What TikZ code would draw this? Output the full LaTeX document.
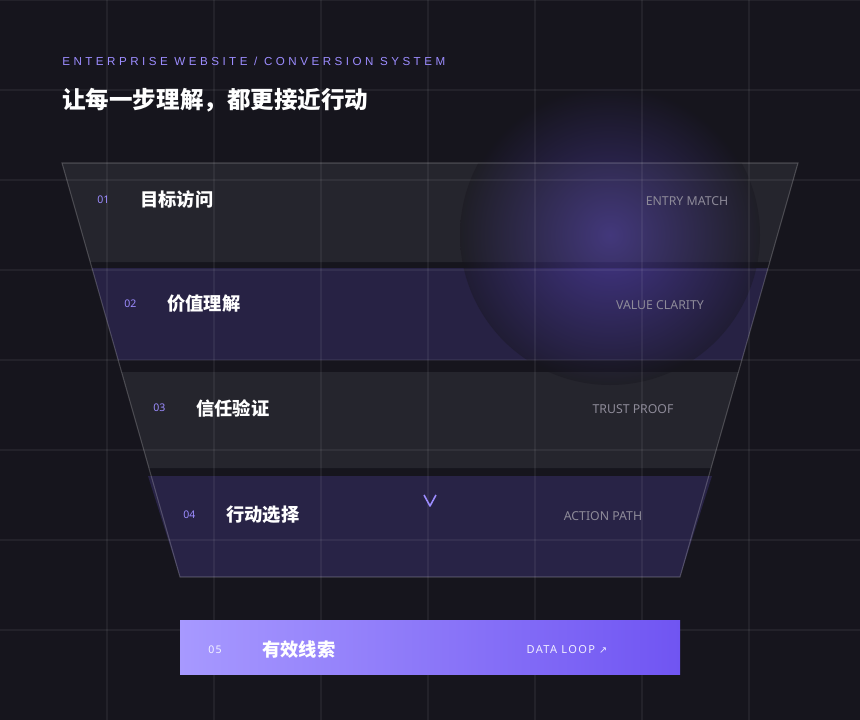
\documentclass[tikz,border=0pt]{standalone}
\usepackage{fontspec}
\setmainfont{Noto Sans}
\newfontfamily\cjk{Noto Sans CJK SC}
\newfontfamily\spaced[LetterSpace=30]{Liberation Sans}
\newfontfamily\looser[LetterSpace=12]{Noto Sans}
\newfontfamily\arrowfont{DejaVu Sans}
\usetikzlibrary{positioning}

\definecolor{Ink}{HTML}{16151D}
\definecolor{Violet}{HTML}{9C8CFF}
\definecolor{GrayBand}{HTML}{27272F}
\definecolor{PurpleBand}{HTML}{292449}
\definecolor{Caption}{HTML}{8E8B99}
\definecolor{LightViolet}{HTML}{A799FF}
\definecolor{DeepViolet}{HTML}{7055F2}

\tikzset{
  Band/.style={draw=white, draw opacity=0.08, line width=0.6pt},
  Step/.style={font=\fontsize{6}{7}\selectfont, text=Violet, anchor=west, inner sep=0},
  Name/.style={font=\cjk\bfseries\fontsize{10.4}{12}\selectfont, text=white, anchor=west, inner sep=0},
  Tag/.style={font=\fontsize{7}{8}\selectfont, text=Caption, inner sep=0}
}

\begin{document}
\begin{tikzpicture}[x=0.02cm, y=-0.02cm]
    \useasboundingbox (0,0) rectangle (860,720);
    \fill[Ink] (0,0) rectangle (860,720);

    % funnel bands
    \fill[GrayBand, opacity=0.9] (62,163) -- (798,163) -- (769.8,262) -- (90.2,262) -- cycle;
    \fill[PurpleBand, opacity=0.9] (92,268) -- (768,268) -- (741.9,360) -- (118.1,360) -- cycle;
    \fill[GrayBand, opacity=0.9] (121.6,372) -- (738.4,372) -- (711.1,468) -- (148.9,468) -- cycle;
    \fill[PurpleBand, opacity=0.95] (148,476) -- (712,476) -- (680,577) -- (180,577) -- cycle;

    % glow
    \shade[inner color=DeepViolet, outer color=Ink, opacity=0.4] (610,235) circle (150);

    % grid
    \foreach \gx in {107,214,321,428,535,642,749}
        \draw[white, opacity=0.06, line width=0.8pt] (\gx,0) -- (\gx,720);
    \foreach \gy in {0,90,180,270,360,450,540,630}
        \draw[white, opacity=0.06, line width=0.8pt] (0,\gy) -- (860,\gy);

    % funnel outline
    \draw[Band, draw opacity=0.2] (62,163) -- (798,163) -- (680,577) -- (180,577) -- cycle;

    % header
    \node (kicker) at (62,61) [anchor=west, inner sep=0, text=Violet, font=\spaced\fontsize{6.6}{8}\selectfont]{ENTERPRISE WEBSITE / CONVERSION SYSTEM};
    \node (headline) at (62,100) [anchor=west, inner sep=0, text=white, font=\cjk\bfseries\fontsize{13.4}{15}\selectfont]{让每一步理解，都更接近行动};

    % step labels
    \node (n1) at (97,200) [Step]{01};
    \node (s1) at (140,200) [Name]{目标访问};
    \node (t1) at (687,201) [Tag]{ENTRY MATCH};

    \node (n2) at (124,304) [Step]{02};
    \node (s2) at (167,304) [Name]{价值理解};
    \node (t2) at (660,305) [Tag]{VALUE CLARITY};

    \node (n3) at (153,408) [Step]{03};
    \node (s3) at (196,408) [Name]{信任验证};
    \node (t3) at (633,409) [Tag]{TRUST PROOF};

    \node (n4) at (183,515) [Step]{04};
    \node (s4) at (226,515) [Name]{行动选择};
    \node (t4) at (603,516) [Tag]{ACTION PATH};

    % chevron
    \draw[Violet, line width=0.9pt, line join=round] (424,495) -- (430,506) -- (436,495);

    % outcome
    \shade[left color=LightViolet, right color=DeepViolet] (180,620) rectangle (680,674);
    \node (n5) at (208,650) [Step, text=white!90!Violet, font=\looser\fontsize{6}{7}\selectfont]{05};
    \node (s5) at (262,650) [Name]{有效线索};
    \node (t5) at (567,650) [Tag, text=white!85!Violet, font=\looser\fontsize{6.3}{8}\selectfont]{DATA LOOP {\arrowfont\fontsize{5.5}{7}\selectfont ↗}};

\end{tikzpicture}
\end{document}
